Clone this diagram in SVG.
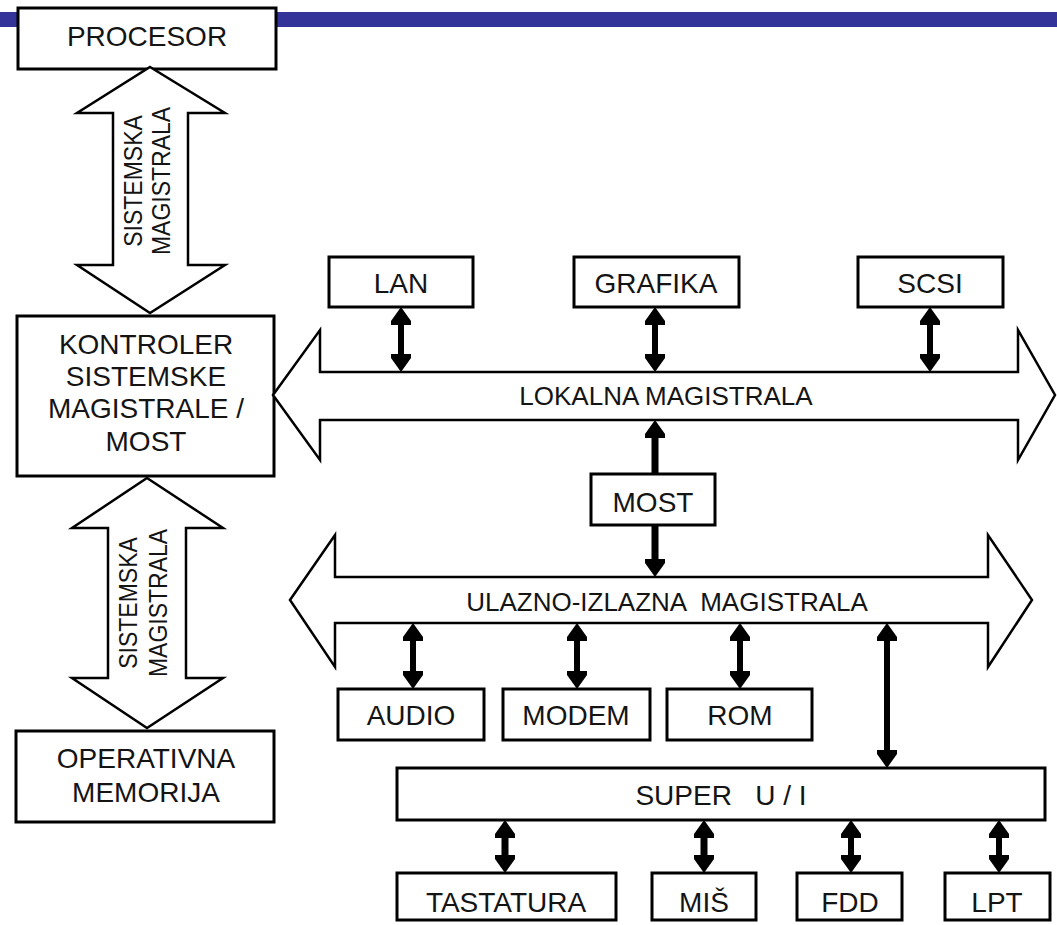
<svg xmlns="http://www.w3.org/2000/svg" width="1057" height="925" viewBox="0 0 1057 925">
<style>
  .box { fill: #ffffff; stroke: #000000; stroke-width: 3; }
  .bus { fill: #ffffff; stroke: #000000; stroke-width: 2.5; stroke-linejoin: miter; }
  .t { font-family: "Liberation Sans", Arial, sans-serif; font-size: 28px; fill: #141414; text-anchor: middle; }
  .bt { font-family: "Liberation Sans", Arial, sans-serif; font-size: 26px; fill: #141414; text-anchor: middle; }
  .vt { font-family: "Liberation Sans", Arial, sans-serif; font-size: 25px; fill: #141414; text-anchor: middle; }
  .ln { stroke: #000000; stroke-width: 6; fill: none; }
  .lnb { stroke: #000000; stroke-width: 7; fill: none; }
</style>
<defs>
  <marker id="ah" viewBox="0 -10 18 20" markerUnits="userSpaceOnUse" markerWidth="18" markerHeight="20" refX="8" refY="0" orient="auto-start-reverse">
    <path d="M0,-10 L4,-10 L18,0 L4,10 L0,10 Z" fill="#000000"/>
  </marker>
</defs>
<rect x="0" y="12" width="1057" height="15" fill="#333399"/>

<g id="procesor">
  <rect class="box" x="18" y="8" width="258" height="61"/>
  <text class="t" x="147" y="46">PROCESOR</text>
</g>

<g id="sys-bus-top">
  <polygon class="bus" points="150,67 225,113 188,113 188,265 225,265 150,313 77,265 113,265 113,113 77,113"/>
  <text class="vt" transform="translate(142,181) rotate(-90) scale(0.92,1)">SISTEMSKA</text>
  <text class="vt" transform="translate(170,181) rotate(-90) scale(0.92,1)">MAGISTRALA</text>
</g>

<g id="kontroler">
  <rect class="box" x="17" y="316" width="257" height="160"/>
  <text class="t" x="146" y="354">KONTROLER</text>
  <text class="t" x="146" y="386">SISTEMSKE</text>
  <text class="t" x="146" y="418">MAGISTRALE /</text>
  <text class="t" x="146" y="451">MOST</text>
</g>

<g id="sys-bus-bottom">
  <polygon class="bus" points="147,478 223,528 186,528 186,678 223,678 147,728 72,678 108,678 108,528 72,528"/>
  <text class="vt" transform="translate(137,603) rotate(-90) scale(0.92,1)">SISTEMSKA</text>
  <text class="vt" transform="translate(167,603) rotate(-90) scale(0.92,1)">MAGISTRALA</text>
</g>

<g id="memorija">
  <rect class="box" x="16" y="731" width="258" height="91"/>
  <text class="t" x="146" y="768">OPERATIVNA</text>
  <text class="t" x="146" y="802">MEMORIJA</text>
</g>

<g id="lokalna">
  <polygon class="bus" points="273,395 320,330 320,372 1018,372 1018,330 1055,395 1018,460 1018,420 320,420 320,460"/>
  <text class="bt" x="666" y="405">LOKALNA MAGISTRALA</text>
</g>

<g id="ui-bus">
  <polygon class="bus" points="290,600 335,535 335,577 988,577 988,535 1032,600 988,667 988,623 335,623 335,667"/>
  <text class="bt" x="667" y="611" xml:space="preserve">ULAZNO-IZLAZNA  MAGISTRALA</text>
</g>

<g id="lan">
  <rect class="box" x="329" y="257" width="144" height="50"/>
  <text class="t" x="401" y="293">LAN</text>
</g>
<g id="grafika">
  <rect class="box" x="574" y="257" width="165" height="50"/>
  <text class="t" x="656" y="293">GRAFIKA</text>
</g>
<g id="scsi">
  <rect class="box" x="858" y="257" width="145" height="50"/>
  <text class="t" x="930" y="293">SCSI</text>
</g>

<g id="most">
  <rect class="box" x="591" y="474" width="124" height="51"/>
  <text class="t" x="653" y="512">MOST</text>
</g>

<g id="audio">
  <rect class="box" x="338" y="689" width="146" height="51"/>
  <text class="t" x="411" y="725">AUDIO</text>
</g>
<g id="modem">
  <rect class="box" x="503" y="689" width="147" height="51"/>
  <text class="t" x="576" y="725">MODEM</text>
</g>
<g id="rom">
  <rect class="box" x="667" y="689" width="145" height="51"/>
  <text class="t" x="740" y="725">ROM</text>
</g>

<g id="super-ui">
  <rect class="box" x="397" y="768" width="648" height="52"/>
  <text class="t" x="721" y="805" xml:space="preserve">SUPER   U / I</text>
</g>

<g id="tastatura">
  <rect class="box" x="397" y="873" width="219" height="47"/>
  <text class="t" x="506" y="912">TASTATURA</text>
</g>
<g id="mis">
  <rect class="box" x="652" y="873" width="104" height="47"/>
  <text class="t" x="704" y="912">MIŠ</text>
</g>
<g id="fdd">
  <rect class="box" x="797" y="873" width="105" height="47"/>
  <text class="t" x="850" y="912">FDD</text>
</g>
<g id="lpt">
  <rect class="box" x="945" y="873" width="105" height="47"/>
  <text class="t" x="997" y="912">LPT</text>
</g>

<g id="connectors">
  <line class="ln" x1="401" y1="317" x2="401" y2="362" marker-start="url(#ah)" marker-end="url(#ah)"/>
  <line class="ln" x1="655" y1="317" x2="655" y2="362" marker-start="url(#ah)" marker-end="url(#ah)"/>
  <line class="ln" x1="930" y1="317" x2="930" y2="362" marker-start="url(#ah)" marker-end="url(#ah)"/>
  <line class="lnb" x1="655" y1="474" x2="655" y2="430" marker-end="url(#ah)"/>
  <line class="lnb" x1="655" y1="525" x2="655" y2="567" marker-end="url(#ah)"/>
  <line class="ln" x1="413" y1="633" x2="413" y2="679" marker-start="url(#ah)" marker-end="url(#ah)"/>
  <line class="ln" x1="577" y1="633" x2="577" y2="679" marker-start="url(#ah)" marker-end="url(#ah)"/>
  <line class="ln" x1="740" y1="633" x2="740" y2="679" marker-start="url(#ah)" marker-end="url(#ah)"/>
  <line class="ln" x1="887" y1="633" x2="887" y2="758" marker-start="url(#ah)" marker-end="url(#ah)"/>
  <line class="lnb" x1="505" y1="830" x2="505" y2="863" marker-start="url(#ah)" marker-end="url(#ah)"/>
  <line class="lnb" x1="704" y1="830" x2="704" y2="863" marker-start="url(#ah)" marker-end="url(#ah)"/>
  <line class="ln" x1="851" y1="830" x2="851" y2="863" marker-start="url(#ah)" marker-end="url(#ah)"/>
  <line class="ln" x1="999" y1="830" x2="999" y2="863" marker-start="url(#ah)" marker-end="url(#ah)"/>
</g>
</svg>
